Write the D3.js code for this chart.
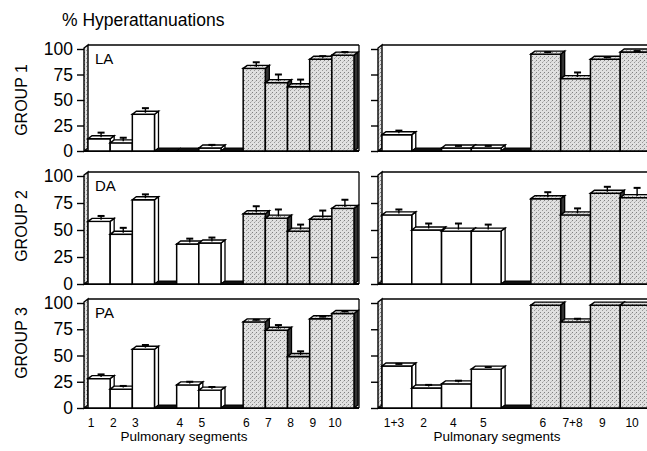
<!DOCTYPE html>
<html>
<head>
<meta charset="utf-8">
<script src="https://cdnjs.cloudflare.com/ajax/libs/d3/7.8.5/d3.min.js"></script>
<style>
body { margin: 0; background: #fff; }
svg { display: block; font-family: "Liberation Sans", Arial, sans-serif; }
</style>
</head>
<body>
<div id="chart"></div>
<script>
// Hyperattenuation by pulmonary segment, 3 groups x 2 lungs

var groupNames = ["GROUP 1", "GROUP 2", "GROUP 3"];
var arteryNames = ["LA", "DA", "PA"];
var yTicks = [0, 25, 50, 75, 100];

// null marks an empty slot in the drawing
var leftSlots = ["1", "2", "3", null, "4", "5", null, "6", "7", "8", "9", "10"];
var rightSlots = ["1+3", "2", "4", "5", null, "6", "7+8", "9", "10"];
var shadedSegments = ["6", "7", "8", "9", "10", "7+8"];

var leftValues = [
  [12, 8, 36, 0, 3, 81, 67, 63, 90, 94],
  [58, 46, 78, 37, 38, 65, 61, 49, 60, 70],
  [28, 18, 56, 22, 17, 82, 74, 49, 85, 90]
];
var leftErrors = [
  [6, 5, 6, 0, 3, 6, 8, 7, 3, 3],
  [5, 6, 5, 5, 5, 7, 8, 6, 8, 8],
  [4, 3, 4, 3, 3, 2, 5, 5, 2, 2]
];
var rightValues = [
  [16, 0, 3, 3, 95, 71, 90, 97],
  [64, 50, 49, 49, 79, 64, 84, 80],
  [40, 19, 23, 37, 98, 82, 98, 98]
];
var rightErrors = [
  [4, 0, 2, 2, 2, 6, 2, 1],
  [5, 6, 7, 6, 6, 6, 6, 9],
  [2, 3, 3, 2, 0, 3, 0, 0]
];

var svgWidth = 647;
var svgHeight = 451;
var dx = 4, dy = 3;

var rows = [
  {y0: 151, y100: 49, groupY: 100},
  {y0: 284, y100: 176, groupY: 226},
  {y0: 408, y100: 303, groupY: 343}
];
var panels = [
  {axisX: 84, x0: 88, x1: 354, right: 359, slots: leftSlots, values: leftValues, errors: leftErrors, tickLabels: true, labelShift: -8, titleX: 184},
  {axisX: 378, x0: 382, x1: 650, right: 660, slots: rightSlots, values: rightValues, errors: rightErrors, tickLabels: false, labelShift: -3, titleX: 497}
];

var svg = d3.select("#chart")
  .append("svg")
  .attr("width", svgWidth)
  .attr("height", svgHeight);

var pat = svg.append("defs").append("pattern")
  .attr("id", "stipple")
  .attr("width", 4).attr("height", 4)
  .attr("patternUnits", "userSpaceOnUse");
pat.append("rect").attr("width", 4).attr("height", 4).attr("fill", "#e0e0e0");
pat.append("rect").attr("x", 0).attr("y", 0).attr("width", 1).attr("height", 1).attr("fill", "#808080");
pat.append("rect").attr("x", 2).attr("y", 2).attr("width", 1).attr("height", 1).attr("fill", "#999");
pat.append("rect").attr("x", 3).attr("y", 1).attr("width", 1).attr("height", 1).attr("fill", "#bbb");

svg.append("text")
  .attr("x", 62)
  .attr("y", 26)
  .attr("font-size", "17.5px")
  .text("% Hyperattanuations");

function poly(pts) {
  return "M" + pts.map(function(p) { return p.join(","); }).join("L") + "Z";
}

rows.forEach(function(row, r) {
  var y = d3.scaleLinear().domain([0, 100]).range([row.y0, row.y100]);
  var yTop = y(100) - 4;

  svg.append("text")
    .attr("transform", "translate(21," + row.groupY + ") rotate(-90)")
    .attr("text-anchor", "middle")
    .attr("dominant-baseline", "central")
    .attr("font-size", "16px")
    .text(groupNames[r]);

  panels.forEach(function(p, pi) {
    var x = d3.scaleBand()
      .domain(d3.range(p.slots.length))
      .range([p.x0, p.x1])
      .padding(0);
    var bw = x.bandwidth();

    // build slot data from the named arrays
    var k = 0;
    var data = p.slots.map(function(seg, i) {
      if (seg === null) return {i: i, seg: null, v: 0, e: 0};
      var d = {i: i, seg: seg, v: p.values[r][k], e: p.errors[r][k]};
      k++;
      return d;
    });

    var g = svg.append("g");

    // frame
    g.append("line")
      .attr("x1", p.axisX + dx).attr("x2", p.right)
      .attr("y1", yTop).attr("y2", yTop)
      .attr("stroke", "#000").attr("stroke-width", 1.6);
    if (pi === 0) {
      g.append("line")
        .attr("x1", p.right).attr("x2", p.right)
        .attr("y1", yTop).attr("y2", y(0))
        .attr("stroke", "#000").attr("stroke-width", 1.3);
    }

    // left wall
    g.append("path")
      .attr("d", poly([[p.axisX, y(0)], [p.axisX, yTop + dy], [p.axisX + dx, yTop], [p.axisX + dx, y(0) - dy]]))
      .attr("fill", "url(#stipple)")
      .attr("stroke", "#000")
      .attr("stroke-width", 1.4);

    var axis = d3.axisLeft(y).tickValues(yTicks).tickSize(7).tickPadding(4);
    if (!p.tickLabels) axis.tickFormat("");
    var ag = g.append("g")
      .attr("transform", "translate(" + p.axisX + ",0)")
      .call(axis);
    ag.select(".domain").remove();
    ag.selectAll("line").attr("stroke-width", 1.4);
    ag.selectAll("text")
      .attr("font-family", "Liberation Sans, Arial, sans-serif")
      .attr("font-size", "17.5px")
      .attr("fill", "#000");

    // base line
    g.append("line")
      .attr("x1", p.axisX).attr("x2", p.right)
      .attr("y1", y(0)).attr("y2", y(0))
      .attr("stroke", "#000").attr("stroke-width", 2);

    var bars = g.selectAll("g.bar")
      .data(data)
      .enter()
      .append("g")
      .attr("class", "bar");

    bars.each(function(d) {
      var b = d3.select(this);
      var xl = x(d.i), xr = xl + bw;
      var yt = y(d.v), yb = y(0);
      var shaded = shadedSegments.indexOf(d.seg) >= 0;
      var fill = shaded ? "url(#stipple)" : "#fff";

      if (d.v === 0) {
        b.append("path")
          .attr("d", poly([[xl, yb], [xl + dx, yb - dy], [xr + dx, yb - dy], [xr, yb]]))
          .attr("fill", "#111")
          .attr("stroke", "#000")
          .attr("stroke-width", 1);
        return;
      }

      b.append("path")
        .attr("d", poly([[xr, yt], [xr + dx, yt - dy], [xr + dx, yb - dy], [xr, yb]]))
        .attr("fill", shaded ? "#333" : "#fff")
        .attr("stroke", "#000")
        .attr("stroke-width", 1.3);
      b.append("rect")
        .attr("x", xl).attr("y", yt)
        .attr("width", bw).attr("height", yb - yt)
        .attr("fill", fill)
        .attr("stroke", "#000")
        .attr("stroke-width", 1.5);
      b.append("path")
        .attr("d", poly([[xl, yt], [xl + dx, yt - dy], [xr + dx, yt - dy], [xr, yt]]))
        .attr("fill", fill)
        .attr("stroke", "#000")
        .attr("stroke-width", 1.4);

      if (d.e > 0) {
        var cx = xl + bw / 2 + dx / 2;
        var ye = y(d.v + d.e);
        b.append("line")
          .attr("x1", cx).attr("x2", cx)
          .attr("y1", yt - dy / 2).attr("y2", ye)
          .attr("stroke", "#000").attr("stroke-width", 1.4);
        b.append("line")
          .attr("x1", cx - 3.5).attr("x2", cx + 3.5)
          .attr("y1", ye).attr("y2", ye)
          .attr("stroke", "#000").attr("stroke-width", 2);
      }
    });

    if (pi === 0) {
      g.append("text")
        .attr("x", p.axisX + 11)
        .attr("y", y(100) + 15)
        .attr("font-size", "15px")
        .text(arteryNames[r]);
    }

    // segment labels under the last row
    if (r === rows.length - 1) {
      g.selectAll("text.seg")
        .data(data.filter(function(d) { return d.seg !== null; }))
        .enter()
        .append("text")
        .attr("class", "seg")
        .attr("x", function(d) { return x(d.i) + bw / 2 + p.labelShift; })
        .attr("y", 427)
        .attr("text-anchor", "middle")
        .attr("font-size", "12px")
        .text(function(d) { return d.seg; });

      g.append("text")
        .attr("x", p.titleX)
        .attr("y", 441)
        .attr("text-anchor", "middle")
        .attr("font-size", "13.5px")
        .text("Pulmonary segments");
    }
  });
});
</script>
</body>
</html>
